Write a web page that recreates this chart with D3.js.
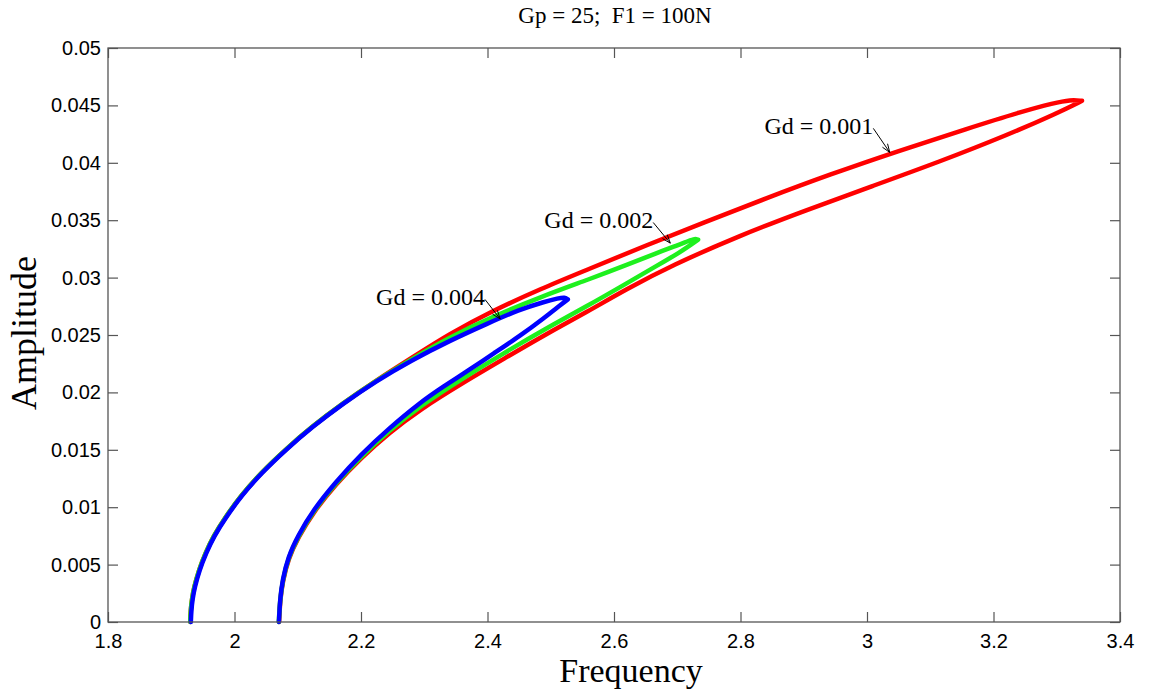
<!DOCTYPE html>
<html>
<head>
<meta charset="utf-8">
<script src="https://cdn.jsdelivr.net/npm/d3@7"></script>
<style>
  body { margin: 0; background: #fff; }
  svg { display: block; }
</style>
</head>
<body>
<div id="chart"></div>
<script>
// frequency / amplitude points, traced around each loop
// (left foot -> upper branch -> tip -> lower branch -> right foot)
const gd001 = [
  [1.930, 0], [1.9307, 0.001], [1.9327, 0.002], [1.936, 0.003], [1.9435, 0.0045],
  [1.954, 0.006], [1.967, 0.0075], [1.984, 0.009], [2.010, 0.011], [2.042, 0.013],
  [2.080, 0.015], [2.122, 0.017], [2.170, 0.019], [2.223, 0.021], [2.280, 0.023],
  [2.340, 0.0251], [2.408, 0.0271], [2.483, 0.0290], [2.563, 0.0308], [2.650, 0.0328],
  [2.742, 0.0348], [2.840, 0.0369], [2.942, 0.0390], [3.048, 0.0410], [3.160, 0.0430],
  [3.247, 0.0445], [3.295, 0.0452], [3.322, 0.0455], [3.340, 0.0454],
  [3.300, 0.0443], [3.221, 0.0424], [3.115, 0.0401], [3.010, 0.0380], [2.905, 0.0359],
  [2.800, 0.0337], [2.689, 0.0310], [2.620, 0.0290], [2.557, 0.0270], [2.490, 0.0250],
  [2.425, 0.0229], [2.360, 0.0208], [2.293, 0.0185], [2.245, 0.0165], [2.200, 0.0143],
  [2.160, 0.0120], [2.125, 0.0096], [2.100, 0.0073], [2.085, 0.0055], [2.076, 0.0035],
  [2.072, 0.0018], [2.0705, 0]
];
const gd002 = [
  [1.930, 0], [1.9307, 0.001], [1.9327, 0.002], [1.936, 0.003], [1.9435, 0.0045],
  [1.954, 0.006], [1.967, 0.0075], [1.984, 0.009], [2.010, 0.011], [2.042, 0.013],
  [2.080, 0.015], [2.122, 0.017], [2.170, 0.019], [2.223, 0.021], [2.280, 0.0229],
  [2.340, 0.0248], [2.408, 0.0266], [2.483, 0.0283], [2.563, 0.0299], [2.620, 0.0311],
  [2.670, 0.0322], [2.700, 0.0328], [2.718, 0.0332], [2.728, 0.0334], [2.733, 0.0333],
  [2.720, 0.0328], [2.704, 0.0322], [2.670, 0.0311], [2.620, 0.0295], [2.557, 0.0275],
  [2.490, 0.0255], [2.425, 0.0234], [2.360, 0.0212], [2.293, 0.0188], [2.245, 0.0167],
  [2.200, 0.0144], [2.160, 0.0121], [2.125, 0.0097], [2.100, 0.0074], [2.085, 0.0056],
  [2.076, 0.0036], [2.072, 0.0019], [2.070, 0]
];
const gd004 = [
  [1.931, 0], [1.9317, 0.001], [1.9337, 0.002], [1.937, 0.003], [1.9445, 0.0045],
  [1.955, 0.006], [1.968, 0.0075], [1.985, 0.009], [2.011, 0.011], [2.043, 0.013],
  [2.081, 0.015], [2.123, 0.017], [2.171, 0.019], [2.224, 0.021], [2.280, 0.0228],
  [2.340, 0.0245], [2.400, 0.0260], [2.450, 0.0272], [2.490, 0.0279], [2.512, 0.0282],
  [2.522, 0.0283], [2.527, 0.0281],
  [2.515, 0.0276], [2.490, 0.0265], [2.451, 0.0249], [2.410, 0.0234], [2.372, 0.0220],
  [2.330, 0.0205], [2.293, 0.0191], [2.245, 0.0169], [2.200, 0.0146], [2.160, 0.0122],
  [2.125, 0.0098], [2.100, 0.0075], [2.085, 0.0057], [2.076, 0.0037], [2.072, 0.0020],
  [2.0702, 0]
];

const seriesColors = ["#ff0000", "#1ef01e", "#0000ff"];

// annotation: label, where the arrow starts (end of text), where it points
const labelText = ["Gd = 0.001", "Gd = 0.002", "Gd = 0.004"];
const labelFrom = [[3.010, 0.0430], [2.662, 0.0348], [2.396, 0.0281]];
const labelTo = [[3.036, 0.0409], [2.689, 0.0330], [2.420, 0.0264]];

const xTicks = [1.8, 2, 2.2, 2.4, 2.6, 2.8, 3, 3.2, 3.4];
const xTickLabels = ["1.8", "2", "2.2", "2.4", "2.6", "2.8", "3", "3.2", "3.4"];
const yTicks = [0, 0.005, 0.01, 0.015, 0.02, 0.025, 0.03, 0.035, 0.04, 0.045, 0.05];
const yTickLabels = ["0", "0.005", "0.01", "0.015", "0.02", "0.025", "0.03", "0.035", "0.04", "0.045", "0.05"];

const W = 1149, H = 693;
const margin = { top: 48, right: 29, bottom: 71, left: 108 };
const iw = W - margin.left - margin.right;
const ih = H - margin.top - margin.bottom;

const svg = d3.select("#chart").append("svg")
    .attr("width", W)
    .attr("height", H);

const g = svg.append("g")
    .attr("transform", `translate(${margin.left},${margin.top})`);

const x = d3.scaleLinear().domain([1.8, 3.4]).range([0, iw]);
const y = d3.scaleLinear().domain([0, 0.05]).range([ih, 0]);

const tickFont = "Liberation Sans, Arial, sans-serif";
const serif = "Liberation Serif, Times New Roman, serif";

// b-spline through the read points; the tip (max frequency) is repeated so the loop reaches it
const line = d3.line()
    .x(d => x(d[0]))
    .y(d => y(d[1]))
    .curve(d3.curveBasis);

function withTip(pts) {
  const k = d3.maxIndex(pts, d => d[0]);
  return pts.slice(0, k).concat([pts[k], pts[k], pts[k]], pts.slice(k + 1));
}

// red first so blue sits on top
const allSeries = [gd001, gd002, gd004];
g.selectAll(".curve")
    .data(allSeries)
    .enter()
    .append("path")
    .attr("class", "curve")
    .attr("d", d => line(withTip(d)))
    .attr("fill", "none")
    .attr("stroke", (d, i) => seriesColors[i])
    .attr("stroke-width", 4.5)
    .attr("stroke-linejoin", "round")
    .attr("stroke-linecap", "round");

// axes (ticks inside the box, like matlab)
const xAxis = d3.axisBottom(x)
    .tickValues(xTicks)
    .tickFormat((d, i) => xTickLabels[i])
    .tickSizeInner(-10)
    .tickSizeOuter(0)
    .tickPadding(12);
const yAxis = d3.axisLeft(y)
    .tickValues(yTicks)
    .tickFormat((d, i) => yTickLabels[i])
    .tickSizeInner(-10)
    .tickSizeOuter(0)
    .tickPadding(7);

const gx = g.append("g")
    .attr("transform", `translate(0,${ih})`)
    .call(xAxis);
const gy = g.append("g").call(yAxis);

// mirrored ticks on top and right
const gxTop = g.append("g")
    .call(d3.axisTop(x).tickValues(xTicks).tickFormat("").tickSizeInner(-10).tickSizeOuter(0));
const gyRight = g.append("g")
    .attr("transform", `translate(${iw},0)`)
    .call(d3.axisRight(y).tickValues(yTicks).tickFormat("").tickSizeInner(-10).tickSizeOuter(0));

[gx, gy, gxTop, gyRight].forEach(a => {
  a.select(".domain").remove();
  a.selectAll(".tick line").attr("stroke", "#555").attr("stroke-width", 1.2);
  a.selectAll(".tick text")
      .attr("fill", "#000")
      .style("font-family", tickFont)
      .style("font-size", "20px");
});

// box
g.append("rect")
    .attr("x", 0)
    .attr("y", 0)
    .attr("width", iw)
    .attr("height", ih)
    .attr("fill", "none")
    .attr("stroke", "#555")
    .attr("stroke-width", 1.3);

// arrows for the labels
const arrowLen = 9, arrowAng = 0.35;
labelText.forEach((t, i) => {
  const x0 = x(labelFrom[i][0]), y0 = y(labelFrom[i][1]);
  const x1 = x(labelTo[i][0]), y1 = y(labelTo[i][1]);
  g.append("text")
      .attr("x", x0)
      .attr("y", y0 + 6)
      .attr("text-anchor", "end")
      .style("font-family", serif)
      .style("font-size", "24px")
      .text(t);
  g.append("line")
      .attr("x1", x0).attr("y1", y0)
      .attr("x2", x1).attr("y2", y1)
      .attr("stroke", "#000").attr("stroke-width", 1);
  const a = Math.atan2(y1 - y0, x1 - x0);
  const head = [a + Math.PI - arrowAng, a + Math.PI + arrowAng].map(b =>
      [x1 + arrowLen * Math.cos(b), y1 + arrowLen * Math.sin(b)]);
  g.append("path")
      .attr("d", `M${head[0][0]},${head[0][1]}L${x1},${y1}L${head[1][0]},${head[1][1]}`)
      .attr("fill", "none")
      .attr("stroke", "#000").attr("stroke-width", 1);
});

// title and axis labels
svg.append("text")
    .attr("x", 615)
    .attr("y", 23)
    .attr("text-anchor", "middle")
    .attr("xml:space", "preserve")
    .style("font-family", serif)
    .style("font-size", "23px")
    .style("white-space", "pre")
    .text("Gp = 25;  F1 = 100N");

svg.append("text")
    .attr("x", 631)
    .attr("y", 682)
    .attr("text-anchor", "middle")
    .style("font-family", serif)
    .style("font-size", "34px")
    .text("Frequency");

svg.append("text")
    .attr("transform", "translate(36,333) rotate(-90)")
    .attr("text-anchor", "middle")
    .style("font-family", serif)
    .style("font-size", "36px")
    .text("Amplitude");
</script>
</body>
</html>
